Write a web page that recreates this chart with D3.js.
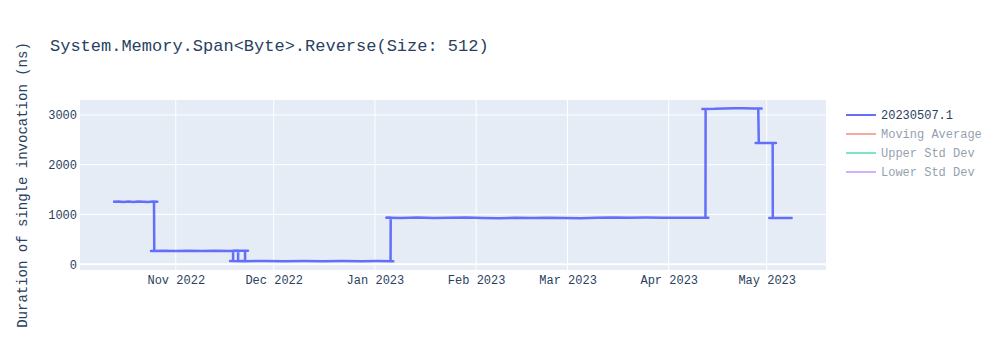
<!DOCTYPE html>
<html>
<head>
<meta charset="utf-8">
<script src="https://cdn.jsdelivr.net/npm/d3@7"></script>
<style>
  html, body { margin: 0; padding: 0; background: #fff; }
  svg { display: block; }
  text { font-family: "Liberation Mono", "Courier New", monospace; }
</style>
</head>
<body>
<svg id="chart" width="1000" height="350"></svg>
<script>
const chartTitle = "System.Memory.Span<Byte>.Reverse(Size: 512)";
const yAxisTitle = "Duration of single invocation (ns)";
const seriesNames = ["20230507.1", "Moving Average", "Upper Std Dev", "Lower Std Dev"];
const seriesVisible = [true, false, false, false];
const yTicks = [0, 1000, 2000, 3000];
const xTicks = ["2022-11-01", "2022-12-01", "2023-01-01", "2023-02-01", "2023-03-01", "2023-04-01", "2023-05-01"];

const dates = [
  "2022-10-12T19:00", "2022-10-14T12:00", "2022-10-16T00:00", "2022-10-17T12:00", "2022-10-19T00:00",
  "2022-10-20T12:00", "2022-10-22T00:00", "2022-10-23T12:00", "2022-10-25T00:00", "2022-10-26T08:00",
  "2022-10-25T08:00", "2022-10-25T10:00", "2022-10-24T10:00",
  "2022-10-28T00:00", "2022-11-01T00:00", "2022-11-05T00:00", "2022-11-09T00:00", "2022-11-13T00:00",
  "2022-11-17T00:00", "2022-11-21T00:00", "2022-11-23T03:00", "2022-11-22T05:00", "2022-11-22T06:00",
  "2022-11-20T02:00", "2022-11-20T03:00", "2022-11-18T13:00", "2022-11-18T14:00", "2022-11-17T15:00",
  "2022-11-22T00:00", "2022-11-28T00:00", "2022-12-04T00:00", "2022-12-10T00:00", "2022-12-16T00:00",
  "2022-12-22T00:00", "2022-12-28T00:00", "2023-01-02T00:00", "2023-01-06T15:00", "2023-01-05T19:00",
  "2023-01-05T20:00", "2023-01-04T12:00",
  "2023-01-09T00:00", "2023-01-14T00:00", "2023-01-19T00:00", "2023-01-24T00:00", "2023-01-29T00:00",
  "2023-02-03T00:00", "2023-02-08T00:00", "2023-02-13T00:00", "2023-02-18T00:00", "2023-02-23T00:00",
  "2023-02-28T00:00", "2023-03-05T00:00", "2023-03-10T00:00", "2023-03-15T00:00", "2023-03-20T00:00",
  "2023-03-25T00:00", "2023-03-30T00:00", "2023-04-04T00:00", "2023-04-09T00:00", "2023-04-13T03:00",
  "2023-04-12T06:00", "2023-04-12T07:00", "2023-04-11T07:00",
  "2023-04-15T00:00", "2023-04-18T00:00", "2023-04-21T00:00", "2023-04-24T00:00", "2023-04-27T00:00",
  "2023-04-29T11:00", "2023-04-28T10:00", "2023-04-28T14:00", "2023-04-27T15:00",
  "2023-05-01T00:00", "2023-05-03T20:00", "2023-05-02T20:00", "2023-05-02T21:00", "2023-05-01T19:00",
  "2023-05-05T00:00", "2023-05-08T23:00"
];
const durations = [
  1255, 1262, 1252, 1258, 1250,
  1260, 1254, 1248, 1258, 1256,
  1255, 268, 266,
  270, 266, 271, 265, 269,
  266, 270, 268, 268, 62,
  62, 268, 268, 62, 62,
  60, 63, 60, 64, 61,
  63, 60, 62, 61, 61,
  932, 935,
  930, 937, 928, 934, 938,
  930, 925, 933, 927, 935,
  926, 922, 934, 937, 932,
  936, 933, 935, 932, 933,
  933, 3118, 3120,
  3122, 3128, 3136, 3132, 3130,
  3128, 3128, 2436, 2436,
  2434, 2436, 2436, 928, 928,
  930, 927
];

const colors = ["#636efa", "#EF553B", "#00cc96", "#ab63fa"];

const svg = d3.select("#chart");
const W = 1000, H = 350;
const m = { left: 80, right: 174, top: 100, bottom: 80 };
const pw = W - m.left - m.right, ph = H - m.top - m.bottom;

const parse = d3.isoParse;
const data = dates.map((d, i) => ({ x: parse(d), y: durations[i] }));

const x = d3.scaleTime()
  .domain([parse("2022-10-02T16:00"), parse("2023-05-19T04:00")])
  .range([m.left, m.left + pw]);
const y = d3.scaleLinear()
  .domain([-117, 3300])
  .range([m.top + ph, m.top]);

svg.append("rect").attr("x", m.left).attr("y", m.top).attr("width", pw).attr("height", ph).attr("fill", "#E5ECF6");

const g = svg.append("g");
g.selectAll(".xg").data(xTicks).enter().append("line")
  .attr("x1", d => x(parse(d))).attr("x2", d => x(parse(d)))
  .attr("y1", m.top).attr("y2", m.top + ph)
  .attr("stroke", "#fff").attr("stroke-width", 1);
g.selectAll(".yg").data(yTicks).enter().append("line")
  .attr("x1", m.left).attr("x2", m.left + pw)
  .attr("y1", d => y(d)).attr("y2", d => y(d))
  .attr("stroke", "#fff").attr("stroke-width", d => d === 0 ? 2 : 1);

const xAxis = d3.axisBottom(x).tickValues(xTicks.map(parse)).tickSize(0).tickPadding(0)
  .tickFormat(d3.timeFormat("%b %Y"));
const xg = svg.append("g").attr("transform", `translate(0,${m.top + ph})`).call(xAxis);
xg.select(".domain").remove();
xg.selectAll("text").attr("dy", null).attr("y", 13.5).attr("font-size", 12).attr("fill", "#2a3f5f")
  .attr("font-family", "'Liberation Mono', 'Courier New', monospace");

const yAxis = d3.axisLeft(y).tickValues(yTicks).tickSize(0).tickPadding(3).tickFormat(d3.format("d"));
const yg = svg.append("g").attr("transform", `translate(${m.left},0)`).call(yAxis);
yg.select(".domain").remove();
yg.selectAll("text").attr("font-size", 12).attr("fill", "#2a3f5f")
  .attr("font-family", "'Liberation Mono', 'Courier New', monospace");

svg.append("clipPath").attr("id", "clip").append("rect")
  .attr("x", m.left).attr("y", m.top).attr("width", pw).attr("height", ph);
const line = d3.line().x(d => x(d.x)).y(d => y(d.y));
svg.append("path").datum(data)
  .attr("clip-path", "url(#clip)")
  .attr("d", line).attr("fill", "none")
  .attr("stroke", colors[0]).attr("stroke-width", 2.5)
  .attr("stroke-linejoin", "round");

svg.append("text").attr("x", 50).attr("y", 50.5).attr("font-size", 17).attr("fill", "#2a3f5f")
  .text(chartTitle);

svg.append("text").attr("transform", `translate(27,${m.top + ph / 2}) rotate(-90)`)
  .attr("text-anchor", "middle").attr("font-size", 14).attr("fill", "#2a3f5f")
  .text(yAxisTitle);

const lg = svg.append("g").attr("transform", "translate(846,115)");
seriesNames.forEach((name, i) => {
  const row = lg.append("g").attr("transform", `translate(0,${i * 19})`)
    .attr("opacity", seriesVisible[i] ? 1 : 0.5);
  row.append("line").attr("x1", 0).attr("x2", 30).attr("y1", 0).attr("y2", 0)
    .attr("stroke", colors[i]).attr("stroke-width", 2);
  row.append("text").attr("x", 35).attr("y", 4.2).attr("font-size", 12).attr("fill", "#2a3f5f").text(name);
});
</script>
</body>
</html>
